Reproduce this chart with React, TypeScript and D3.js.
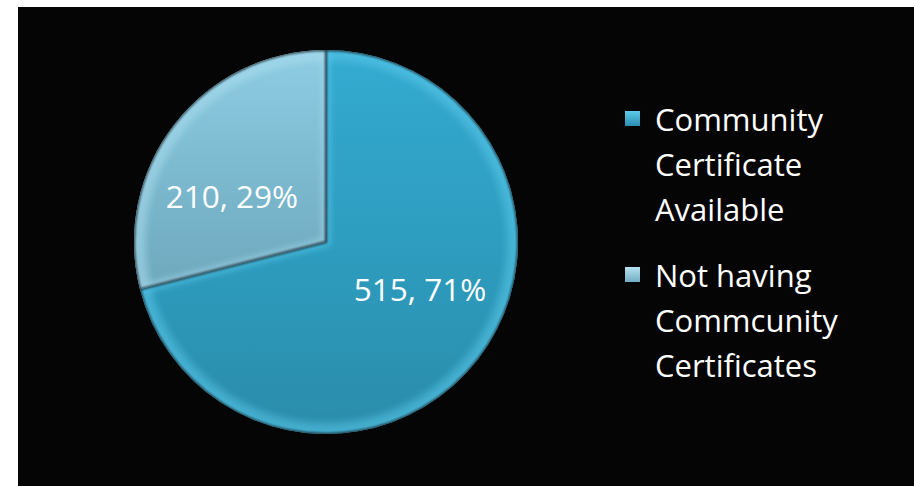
import React from "react";
import * as d3 from "d3";

const categories = ["Community Certificate Available", "Not having Commcunity Certificates"];
const values = [515, 210];
const percents = [71, 29];
const legendLines = [
  ["Community", "Certificate", "Available"],
  ["Not having", "Commcunity", "Certificates"],
];

const W = 914;
const H = 486;
const FONT = "'Open Sans', 'Noto Sans', sans-serif";

export default function App() {
  const cx = 326;
  const cy = 242;
  const r = 192;
  const pie = d3.pie<number>().sort(null).startAngle(0).endAngle(2 * Math.PI)(values);
  const arc = d3.arc<any>().innerRadius(0).outerRadius(r);
  const rimArc = d3.arc<any>().innerRadius(r - 12).outerRadius(r - 2);
  const labelR = 105;
  const lineH = 45;

  return (
    <svg width={W} height={H} style={{ position: "absolute", left: 0, top: 0 }}>
      <defs>
        <linearGradient id="g0" x1="0" y1="0" x2="0" y2="1">
          <stop offset="0" stopColor="#33abd0" />
          <stop offset="0.5" stopColor="#2e9dbf" />
          <stop offset="1" stopColor="#2a8cab" />
        </linearGradient>
        <linearGradient id="g1" x1="0" y1="0" x2="0" y2="1">
          <stop offset="0" stopColor="#8ecde3" />
          <stop offset="0.5" stopColor="#7cbad0" />
          <stop offset="1" stopColor="#6ea8bd" />
        </linearGradient>
        <linearGradient id="lg0" x1="0" y1="0" x2="0" y2="1">
          <stop offset="0" stopColor="#5ecbeb" />
          <stop offset="1" stopColor="#2a8db0" />
        </linearGradient>
        <linearGradient id="lg1" x1="0" y1="0" x2="0" y2="1">
          <stop offset="0" stopColor="#b5e2f2" />
          <stop offset="1" stopColor="#73adc2" />
        </linearGradient>
        <filter id="blur" x="-10%" y="-10%" width="120%" height="120%">
          <feGaussianBlur stdDeviation="3" />
        </filter>
        <filter id="edge" x="-10%" y="-10%" width="120%" height="120%">
          <feGaussianBlur stdDeviation="1" />
        </filter>
        {pie.map((d, i) => (
          <clipPath id={`clip${i}`} key={i}>
            <path d={arc(d) || ""} transform={`translate(${cx},${cy})`} />
          </clipPath>
        ))}
      </defs>
      <rect x={0} y={0} width={W} height={H} fill="#ffffff" />
      <rect x={18} y={7} width={W - 18} height={H - 7} fill="#050505" />
      <g transform={`translate(${cx},${cy})`}>
        {pie.map((d, i) => (
          <path key={i} d={arc(d) || ""} fill={`url(#g${i})`} />
        ))}
      </g>
      {pie.map((d, i) => (
        <g key={i} clipPath={`url(#clip${i})`}>
          <g transform={`translate(${cx},${cy})`}>
            <path
              d={rimArc(d) || ""}
              fill={i === 0 ? "#5cc6e6" : "#b0e0f0"}
              opacity={0.45}
              filter="url(#blur)"
            />
            <path
              d={arc(d) || ""}
              fill="none"
              stroke={i === 0 ? "#5ccdf0" : "#a9dcee"}
              strokeWidth={9}
              opacity={0.55}
              filter="url(#blur)"
            />
            <path d={arc(d) || ""} fill="none" stroke="#1c2a30" strokeWidth={2} filter="url(#edge)" />
          </g>
        </g>
      ))}
      {pie.map((d, i) => {
        const a = (d.startAngle + d.endAngle) / 2 - 0.2;
        const x = cx + labelR * Math.sin(a);
        const y = cy - labelR * Math.cos(a);
        return (
          <text
            key={i}
            x={x}
            y={y}
            textAnchor="middle"
            dominantBaseline="central"
            fill="#ffffff"
            fontFamily={FONT}
            fontSize={31.5}
          >
            {`${values[i]}, ${percents[i]}%`}
          </text>
        );
      })}
      {categories.map((c, i) => {
        const top = 119 + i * 156;
        return (
          <g key={c}>
            <rect x={625} y={top - 8} width={15} height={15} fill={`url(#lg${i})`} />
            {legendLines[i].map((t, j) => (
              <text
                key={j}
                x={655}
                y={top + j * lineH}
                dominantBaseline="central"
                fill="#ffffff"
                fontFamily={FONT}
                fontSize={31}
              >
                {t}
              </text>
            ))}
          </g>
        );
      })}
    </svg>
  );
}
